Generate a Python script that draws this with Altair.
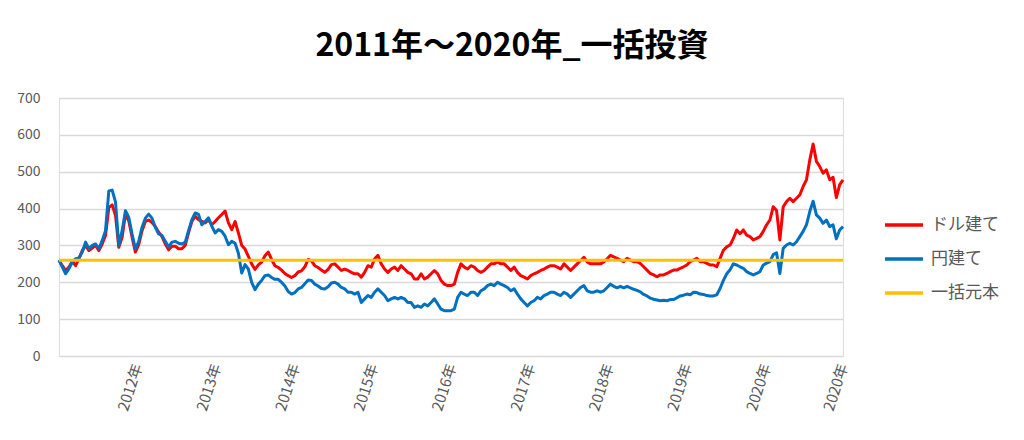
import altair as alt
import pandas as pd

FONT = "Noto Sans CJK JP"
TEXT_GRAY = "#595959"

title_text = "2011年～2020年_一括投資"
series_names = ["ドル建て", "円建て", "一括元本"]
series_colors = ["#FF0000", "#0070C0", "#FFC000"]

start_date = "2011-01-04"
end_date = "2020-12-30"

# ドル建て (red)
dollar_values = [
    260, 245, 232, 241, 257, 245, 264, 286, 300, 286, 293, 300, 286, 304, 327, 403, 410, 382, 295, 322,
    385, 367, 322, 282, 302, 340, 365, 369, 362, 351, 336, 324, 304, 288, 298, 298, 291, 291, 300, 335, 365,
    379, 370, 365, 361, 370, 356, 365, 375, 384, 393, 361, 343, 365, 334, 300, 290, 270, 250, 235, 247,
    255, 272, 282, 262, 245, 240, 233, 224, 218, 213, 218, 228, 231, 242, 262, 258, 245, 240, 233, 227, 235, 248,
    250, 241, 232, 236, 232, 227, 223, 223, 214, 227, 245, 241, 264, 273, 250, 236, 227, 236, 241, 232,
    245, 236, 227, 223, 209, 209, 223, 209, 214, 223, 232, 223, 205, 195, 191, 191, 195, 227, 250, 241, 236, 245,
    241, 232, 227, 232, 241, 250, 250, 255, 250, 250, 241, 232, 241, 227, 218, 214, 209, 218, 223, 227,
    232, 236, 241, 245, 245, 241, 236, 250, 241, 232, 241, 250, 259, 268, 255, 250, 250, 250, 250, 255, 264, 273,
    269, 265, 260, 256, 265, 260, 256, 256, 251, 242, 233, 224, 220, 215, 220, 220, 224, 229, 233, 233,
    238, 242, 247, 256, 260, 265, 256, 256, 251, 247, 247, 242, 265, 287, 296, 301, 319, 342, 332,
    342, 328, 324, 315, 319, 324, 338, 356, 369, 405, 395, 315, 405, 419, 428, 419, 428, 437, 460, 478,
    532, 575, 528, 514, 496, 505, 478, 485, 430, 465, 478,
]

# 円建て (blue)
yen_values = [
    260, 241, 223, 237, 255, 264, 266, 282, 309, 291, 300, 304, 291, 313, 340, 448, 450, 418, 300, 340,
    394, 376, 331, 291, 311, 349, 374, 385, 374, 349, 331, 327, 311, 296, 309, 311, 306, 304, 309, 340, 370,
    388, 384, 356, 365, 375, 352, 334, 343, 338, 325, 302, 311, 306, 279, 225, 248, 236, 200, 180, 195,
    205, 218, 220, 213, 208, 208, 200, 190, 175, 168, 172, 182, 186, 196, 206, 205, 195, 190, 183, 182, 188, 198,
    200, 195, 186, 182, 173, 173, 168, 173, 145, 155, 164, 159, 173, 182, 173, 164, 150, 155, 159, 155,
    159, 155, 145, 145, 132, 136, 132, 141, 136, 145, 155, 141, 127, 123, 123, 123, 127, 159, 173, 168, 164, 173,
    173, 164, 177, 182, 191, 195, 191, 200, 195, 191, 186, 177, 182, 168, 155, 145, 136, 145, 150, 159,
    155, 164, 168, 173, 173, 168, 164, 173, 168, 159, 168, 177, 186, 191, 177, 173, 173, 177, 173, 177, 186, 195,
    189, 185, 189, 185, 189, 185, 181, 178, 174, 167, 163, 157, 154, 152, 150, 151, 150, 153, 153, 158,
    163, 165, 168, 166, 173, 172, 168, 167, 164, 163, 163, 166, 183, 205, 223, 234, 250, 247, 242,
    238, 229, 224, 220, 224, 229, 247, 252, 256, 275, 280, 224, 292, 301, 306, 301, 310, 324, 338, 356,
    392, 420, 383, 374, 360, 369, 351, 356, 318, 342, 351,
]

# 一括元本 (orange, constant)
principal_value = 260

tick_dates = ["2012-01-04", "2013-01-04", "2014-01-06", "2015-01-05", "2016-01-04",
              "2017-01-04", "2018-01-04", "2019-01-04", "2020-01-06", "2020-12-30"]
y_ticks = [0, 100, 200, 300, 400, 500, 600, 700]

dates = pd.date_range(start_date, end_date, periods=len(dollar_values))
df = pd.concat([
    pd.DataFrame({"date": dates, "value": dollar_values, "series": series_names[0]}),
    pd.DataFrame({"date": dates, "value": yen_values, "series": series_names[1]}),
    pd.DataFrame({"date": pd.to_datetime([start_date, end_date]),
                  "value": [principal_value, principal_value], "series": series_names[2]}),
], ignore_index=True)


def to_dt(s):
    y, m, d = (int(p) for p in s.split("-"))
    return alt.DateTime(year=y, month=m, date=d, utc=True)


x_enc = alt.X(
    "date:T",
    scale=alt.Scale(nice=False),
    axis=alt.Axis(
        values=[to_dt(s) for s in tick_dates],
        labelExpr="utcFormat(datum.value, '%Y') + '年'",
        labelAngle=-72, labelAlign="right", labelBaseline="middle",
        labelFontSize=15, labelColor=TEXT_GRAY, labelFont=FONT,
        labelPadding=8, labelFlush=False, labelOverlap=False, labelBound=False,
        ticks=False, domain=False, grid=False, title=None,
    ),
)
y_enc = alt.Y(
    "value:Q",
    scale=alt.Scale(domain=[0, 700], nice=False),
    axis=alt.Axis(
        values=y_ticks, labelFontSize=14, labelColor=TEXT_GRAY, labelFont=FONT,
        labelPadding=19, ticks=False, domain=False,
        gridColor="#D9D9D9", gridWidth=1.3, title=None,
    ),
)
color_enc = alt.Color(
    "series:N",
    scale=alt.Scale(domain=series_names, range=series_colors),
    legend=alt.Legend(
        title=None, orient="none", legendX=824, legendY=106,
        symbolType="stroke", symbolSize=1444, symbolStrokeWidth=3.5,
        labelFontSize=17, labelColor=TEXT_GRAY, labelFont=FONT,
        labelOffset=6, rowPadding=5, padding=0,
    ),
)

base = alt.Chart(df).encode(x=x_enc, y=y_enc, color=color_enc)
layers = [
    base.mark_line(strokeWidth=3, strokeJoin="round").transform_filter(alt.datum.series == name)
    for name in series_names
]

chart = alt.layer(*layers).properties(
    width=784,
    height=258,
    padding={"left": 51, "top": 90, "right": 173, "bottom": 74},
    autosize=alt.AutoSizeParams(type="none"),
    title=alt.TitleParams(
        text=title_text, font=FONT, fontSize=32, fontWeight="bold", color="#000000",
        anchor="middle", frame="group", dx=61, offset=28,
    ),
).configure_view(stroke=None).configure(background="white")

chart.save("out.html", embed_options={"renderer": "svg", "actions": False})
